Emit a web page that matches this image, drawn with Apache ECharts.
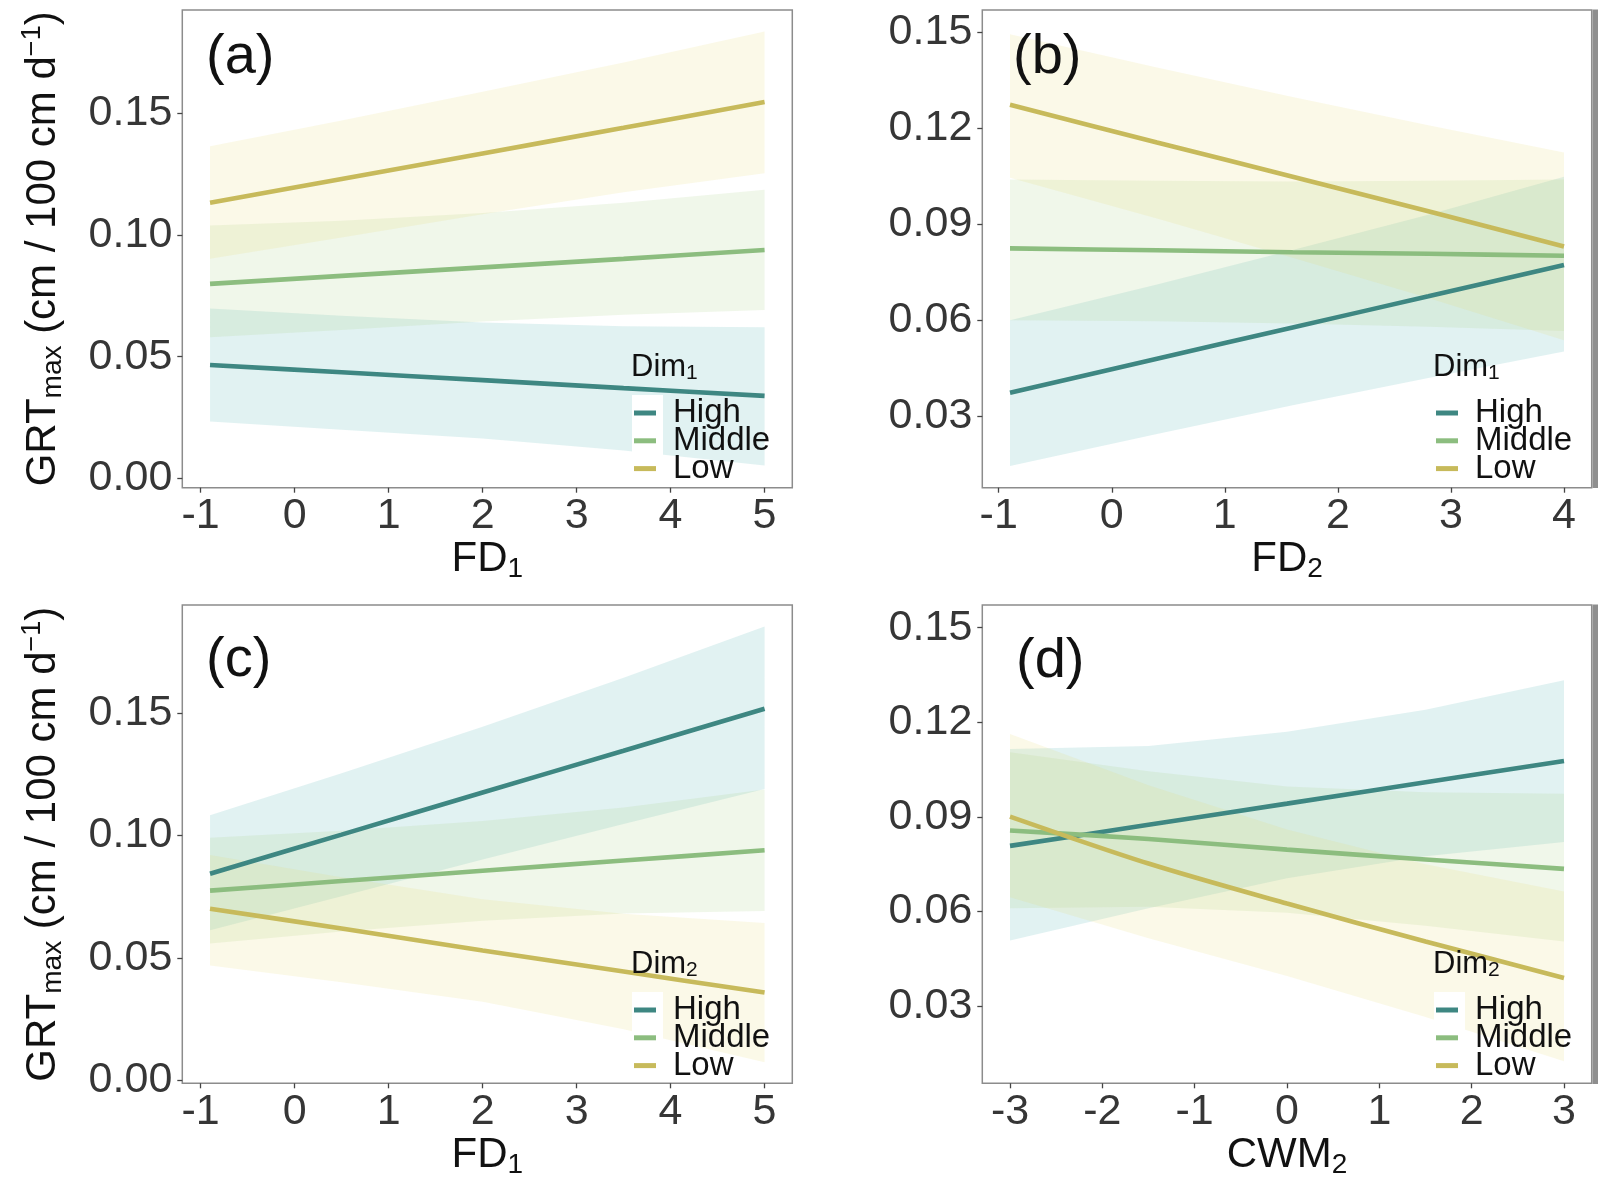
<!DOCTYPE html>
<html>
<head>
<meta charset="utf-8">
<script src="https://cdn.jsdelivr.net/npm/echarts@6/dist/echarts.min.js"></script>
<style>
html, body { margin: 0; padding: 0; background: #fff; }
#chart { width: 1608px; height: 1180px; }
</style>
</head>
<body>
<div id="chart"></div>
<script>
// sample points along each x variable
const xA = [-0.9, 0.5, 2, 3.5, 5];
const xB = [-0.9, 0.4, 1.6, 2.8, 4];
const xC = [-0.9, 0.5, 2, 3.5, 5];
const xD = [-3, -1.5, 0, 1.5, 3];

// (a) GRTmax ~ FD1, by Dim1
const aHighFit = [0.0466, 0.0436, 0.0404, 0.0371, 0.0339];
const aHighLo  = [0.0234, 0.0200, 0.0164, 0.0115, 0.0053];
const aHighHi  = [0.0698, 0.0668, 0.0640, 0.0625, 0.0621];
const aMidFit  = [0.0799, 0.0832, 0.0867, 0.0902, 0.0938];
const aMidLo   = [0.0580, 0.0610, 0.0645, 0.0672, 0.0692];
const aMidHi   = [0.1039, 0.1058, 0.1090, 0.1132, 0.1186];
const aLowFit  = [0.1132, 0.1230, 0.1335, 0.1440, 0.1546];
const aLowLo   = [0.0902, 0.0990, 0.1085, 0.1175, 0.1254];
const aLowHi   = [0.1364, 0.1470, 0.1588, 0.1708, 0.1836];

// (b) GRTmax ~ FD2, by Dim1
const bHighFit = [0.0374, 0.0480, 0.0578, 0.0675, 0.0773];
const bHighLo  = [0.0145, 0.0245, 0.0335, 0.0420, 0.0503];
const bHighHi  = [0.0600, 0.0712, 0.0820, 0.0930, 0.1049];
const bMidFit  = [0.0825, 0.0819, 0.0813, 0.0808, 0.0802];
const bMidLo   = [0.0600, 0.0597, 0.0590, 0.0580, 0.0567];
const bMidHi   = [0.1040, 0.1036, 0.1034, 0.1036, 0.1040];
const bLowFit  = [0.1274, 0.1156, 0.1049, 0.0941, 0.0831];
const bLowLo   = [0.1046, 0.0918, 0.0796, 0.0670, 0.0538];
const bLowHi   = [0.1494, 0.1390, 0.1298, 0.1210, 0.1125];

// (c) GRTmax ~ FD1, by Dim2
const cHighFit = [0.0844, 0.1004, 0.1176, 0.1347, 0.1519];
const cHighLo  = [0.0613, 0.0752, 0.0902, 0.1047, 0.1191];
const cHighHi  = [0.1083, 0.1255, 0.1445, 0.1645, 0.1855];
const cMidFit  = [0.0775, 0.0814, 0.0856, 0.0898, 0.0940];
const cMidLo   = [0.0559, 0.0608, 0.0652, 0.0681, 0.0692];
const cMidHi   = [0.0991, 0.1020, 0.1060, 0.1115, 0.1188];
const cLowFit  = [0.0701, 0.0620, 0.0530, 0.0444, 0.0358];
const cLowLo   = [0.0469, 0.0400, 0.0320, 0.0208, 0.0073];
const cLowHi   = [0.0921, 0.0830, 0.0740, 0.0680, 0.0643];

// (d) GRTmax ~ CWM2, by Dim2
const dHighFit = [0.0808, 0.0875, 0.0942, 0.1010, 0.1077];
const dHighLo  = [0.0508, 0.0610, 0.0705, 0.0775, 0.0820];
const dHighHi  = [0.1115, 0.1125, 0.1170, 0.1240, 0.1333];
const dMidFit  = [0.0857, 0.0830, 0.0796, 0.0765, 0.0735];
const dMidLo   = [0.0610, 0.0615, 0.0596, 0.0555, 0.0505];
const dMidHi   = [0.1105, 0.1045, 0.0996, 0.0978, 0.0973];
const dLowFit  = [0.0901, 0.0752, 0.0625, 0.0505, 0.0389];
const dLowLo   = [0.0645, 0.0515, 0.0395, 0.0265, 0.0125];
const dLowHi   = [0.1163, 0.1000, 0.0860, 0.0750, 0.0663];

// tick labels
const xTicksFD1 = [-1, 0, 1, 2, 3, 4, 5];
const xTicksFD2 = [-1, 0, 1, 2, 3, 4];
const xTicksCWM = [-3, -2, -1, 0, 1, 2, 3];
const yTicksAC = [0, 0.05, 0.10, 0.15];
const yTicksBD = [0.03, 0.06, 0.09, 0.12, 0.15];
const groupNames = ['High', 'Middle', 'Low'];

const FONT = '"Liberation Sans", Arial, Helvetica, sans-serif';
const lineColors = { High: '#3e8782', Middle: '#8cbd7f', Low: '#c7ba5b' };
const fillColors = {
    High: 'rgba(120,196,196,0.22)',
    Middle: 'rgba(170,212,140,0.18)',
    Low: 'rgba(232,216,110,0.16)'
};

const panels = [
    { xs: xA, fits: [aHighFit, aMidFit, aLowFit], los: [aHighLo, aMidLo, aLowLo], his: [aHighHi, aMidHi, aLowHi],
      xMin: -1.195, xMax: 5.295, yMin: -0.0038, yMax: 0.1924, xTicks: xTicksFD1, yTicks: yTicksAC,
      xName: '{m|FD}{s|1}', yName: true },
    { xs: xB, fits: [bHighFit, bMidFit, bLowFit], los: [bHighLo, bMidLo, bLowLo], his: [bHighHi, bMidHi, bLowHi],
      xMin: -1.145, xMax: 4.245, yMin: 0.0077, yMax: 0.1570, xTicks: xTicksFD2, yTicks: yTicksBD,
      xName: '{m|FD}{s|2}', yName: false },
    { xs: xC, fits: [cHighFit, cMidFit, cLowFit], los: [cHighLo, cMidLo, cLowLo], his: [cHighHi, cMidHi, cLowHi],
      xMin: -1.195, xMax: 5.295, yMin: -0.0013, yMax: 0.1943, xTicks: xTicksFD1, yTicks: yTicksAC,
      xName: '{m|FD}{s|1}', yName: true },
    { xs: xD, fits: [dHighFit, dMidFit, dLowFit], los: [dHighLo, dMidLo, dLowLo], his: [dHighHi, dMidHi, dLowHi],
      xMin: -3.3, xMax: 3.3, yMin: 0.0055, yMax: 0.1572, xTicks: xTicksCWM, yTicks: yTicksBD,
      xName: '{m|CWM}{s|2}', yName: false }
];

const gridBoxes = [
    { left: 182.3, top: 10, width: 610, height: 477.7 },
    { left: 982.3, top: 10, width: 609.4, height: 477.7 },
    { left: 182.3, top: 605, width: 610, height: 478.3 },
    { left: 982.3, top: 605, width: 609.4, height: 478.3 }
];

const subRich = {
    m: { fontSize: 42, lineHeight: 48, verticalAlign: 'middle', color: '#111', fontFamily: FONT },
    s: { fontSize: 28, lineHeight: 26, verticalAlign: 'bottom', color: '#111', fontFamily: FONT },
    p: { fontSize: 27, lineHeight: 26, verticalAlign: 'top', color: '#111', fontFamily: FONT }
};

// confidence band as one polygon, placed with the axis scales
function ribbon(i, xs, lo, hi, fill) {
    return {
        type: 'custom', xAxisIndex: i, yAxisIndex: i, silent: true, z: 1,
        data: xs.map((x, j) => [x, lo[j], hi[j]]),
        encode: { x: 0, y: [1, 2] },
        renderItem: function (params, api) {
            if (params.dataIndex !== 0) return;
            let pts = [];
            for (let j = 0; j < xs.length; j++) pts.push(api.coord([xs[j], hi[j]]));
            for (let j = xs.length - 1; j >= 0; j--) pts.push(api.coord([xs[j], lo[j]]));
            return { type: 'polygon', shape: { points: pts }, style: { fill: fill } };
        }
    };
}

let grid = [], xAxis = [], yAxis = [], ribbons = [], lines = [];

panels.forEach((p, i) => {
    grid.push(Object.assign({ show: true, borderColor: '#8c8c8c', borderWidth: 1.5,
        backgroundColor: '#fff', containLabel: false, outerBoundsMode: 'none' }, gridBoxes[i]));

    xAxis.push({
        type: 'value', gridIndex: i, min: p.xMin, max: p.xMax,
        splitLine: { show: false },
        axisLine: { show: false, onZero: false },
        axisTick: { show: true, customValues: p.xTicks, length: 5, lineStyle: { color: '#444', width: 1.3 } },
        axisLabel: { customValues: p.xTicks, margin: 7, fontSize: 43, color: '#363636', fontFamily: FONT,
            formatter: v => String(v) },
        name: p.xName, nameLocation: 'middle', nameGap: 47,
        nameTextStyle: { rich: subRich }
    });

    let ya = {
        type: 'value', gridIndex: i, min: p.yMin, max: p.yMax,
        splitLine: { show: false },
        axisLine: { show: false, onZero: false },
        axisTick: { show: true, customValues: p.yTicks, length: 5, lineStyle: { color: '#444', width: 1.3 } },
        axisLabel: { customValues: p.yTicks, margin: 10, fontSize: 43, color: '#363636', fontFamily: FONT,
            formatter: v => v.toFixed(2) }
    };
    if (p.yName) {
        ya.name = '{m|GRT}{s|max}{m| (cm / 100 cm d}{p|\u22121}{m|)}';
        ya.nameLocation = 'middle';
        ya.nameRotate = 90;
        ya.nameGap = 115;
        ya.nameTextStyle = { rich: subRich };
    }
    yAxis.push(ya);

    groupNames.forEach((g, k) => {
        ribbons.push(ribbon(i, p.xs, p.los[k], p.his[k], fillColors[g]));
        lines.push({
            type: 'line', name: g, xAxisIndex: i, yAxisIndex: i,
            data: p.xs.map((x, j) => [x, p.fits[k][j]]),
            symbol: 'none', smooth: 0.3, lineStyle: { color: lineColors[g], width: 4.6 },
            itemStyle: { color: lineColors[g] }, silent: true, z: 3
        });
    });
});

// panel letters and legend titles
const tagStyle = { fontSize: 56, fontWeight: 'normal', color: '#111', fontFamily: FONT };
const dimRich = {
    m: { fontSize: 31, lineHeight: 34, verticalAlign: 'middle', fontWeight: 'normal', color: '#111', fontFamily: FONT },
    s: { fontSize: 21, lineHeight: 20, verticalAlign: 'bottom', fontWeight: 'normal', color: '#111', fontFamily: FONT }
};
const dimStyle = { fontWeight: 'normal', rich: dimRich };
const title = [
    { text: '(a)', left: 206, top: 30, padding: 0, textStyle: tagStyle },
    { text: '(b)', left: 1013, top: 30, padding: 0, textStyle: tagStyle },
    { text: '(c)', left: 206, top: 633, padding: 0, textStyle: tagStyle },
    { text: '(d)', left: 1016, top: 634, padding: 0, textStyle: tagStyle },
    { text: '{m|Dim}{s|1}', left: 631, top: 350, padding: 0, textStyle: dimStyle },
    { text: '{m|Dim}{s|1}', left: 1433, top: 350, padding: 0, textStyle: dimStyle },
    { text: '{m|Dim}{s|2}', left: 631, top: 947, padding: 0, textStyle: dimStyle },
    { text: '{m|Dim}{s|2}', left: 1433, top: 947, padding: 0, textStyle: dimStyle }
];

const legendPos = [[634, 396.5], [1436, 396.5], [634, 993.5], [1436, 993.5]];
const legend = legendPos.map(([l, t]) => ({
    data: groupNames, left: l, top: t, orient: 'vertical', icon: 'rect',
    itemWidth: 22, itemHeight: 5, itemGap: -5.2, padding: 0, selectedMode: false,
    textStyle: { fontSize: 33, padding: [0, 0, 0, 12], color: '#111', fontFamily: FONT }
}));

// white legend key backgrounds, and the grey strip at the right edge
const graphic = [
    { type: 'rect', shape: { x: 632, y: 395, width: 31, height: 87 }, style: { fill: '#fff' }, z: 3, silent: true },
    { type: 'rect', shape: { x: 1434, y: 395, width: 31, height: 87 }, style: { fill: '#fff' }, z: 3, silent: true },
    { type: 'rect', shape: { x: 632, y: 992, width: 31, height: 87 }, style: { fill: '#fff' }, z: 3, silent: true },
    { type: 'rect', shape: { x: 1434, y: 992, width: 31, height: 87 }, style: { fill: '#fff' }, z: 3, silent: true },
    { type: 'rect', shape: { x: 1592.5, y: 9.5, width: 5.5, height: 478.5 }, style: { fill: '#8e8e8e' }, z: 5, silent: true },
    { type: 'rect', shape: { x: 1592.5, y: 604.5, width: 5.5, height: 479.5 }, style: { fill: '#8e8e8e' }, z: 5, silent: true }
];

const myChart = echarts.init(document.getElementById('chart'), null, { renderer: 'canvas' });
myChart.setOption({
    animation: false,
    backgroundColor: '#fff',
    title: title,
    legend: legend,
    grid: grid,
    xAxis: xAxis,
    yAxis: yAxis,
    graphic: graphic,
    series: ribbons.concat(lines)
});
</script>
</body>
</html>
